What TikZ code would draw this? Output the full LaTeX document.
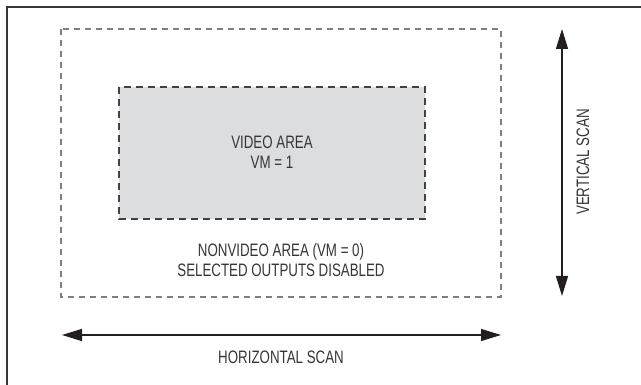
\documentclass[tikz,border=0pt]{standalone}
\usepackage{fontspec}
\setmainfont[FakeStretch=0.74]{Liberation Sans}
\usetikzlibrary{arrows.meta}
\definecolor{ink}{HTML}{231F20}
\definecolor{areagray}{HTML}{DCDDDE}
\definecolor{dashgray}{HTML}{808080}
\tikzset{
  lbl/.style={font=\fontsize{18}{20}\selectfont, text=ink!90, align=center, inner sep=0pt},
  scanarrow/.style={draw=ink, line width=1.4pt, {Triangle[length=20pt,width=12pt]}-{Triangle[length=20pt,width=12pt]}},
  outerbox/.style={draw=dashgray, line width=1.2pt, dash pattern=on 6pt off 5pt},
  innerbox/.style={draw=ink!85, fill=areagray, line width=1.2pt, dash pattern=on 7pt off 5pt}
}
\begin{document}
\begin{tikzpicture}[x=1pt,y=-1pt]
\useasboundingbox (0,0) rectangle (641,385);
\clip (0,0) rectangle (641,385);
\fill[white] (0,0) rectangle (641,385);
% outer frame (only top and left visible)
\draw[draw=ink!90, line width=2pt] (7,7) rectangle (660,400);
\coordinate (o1) at (61,29);
\coordinate (o2) at (501,297);
\draw[outerbox] (o1) rectangle (o2);
\coordinate (i1) at (119,87);
\coordinate (i2) at (425,219);
\draw[innerbox] (i1) rectangle (i2);
\node[lbl] (video) at (272,152) {VIDEO AREA\\VM = 1};
\node[lbl] (nonvideo) at (281,260) {NONVIDEO AREA (VM = 0)\\SELECTED OUTPUTS DISABLED};
\coordinate (hl) at (62,335);
\coordinate (hr) at (501,335);
\draw[scanarrow] (hl) -- (hr);
\node[lbl] (hscan) at (281,357.5) {HORIZONTAL SCAN};
\coordinate (vt) at (562,29);
\coordinate (vb) at (562,296);
\draw[scanarrow] (vt) -- (vb);
\node[lbl, rotate=90] (vscan) at (583,162) {VERTICAL SCAN};
\end{tikzpicture}
\end{document}
